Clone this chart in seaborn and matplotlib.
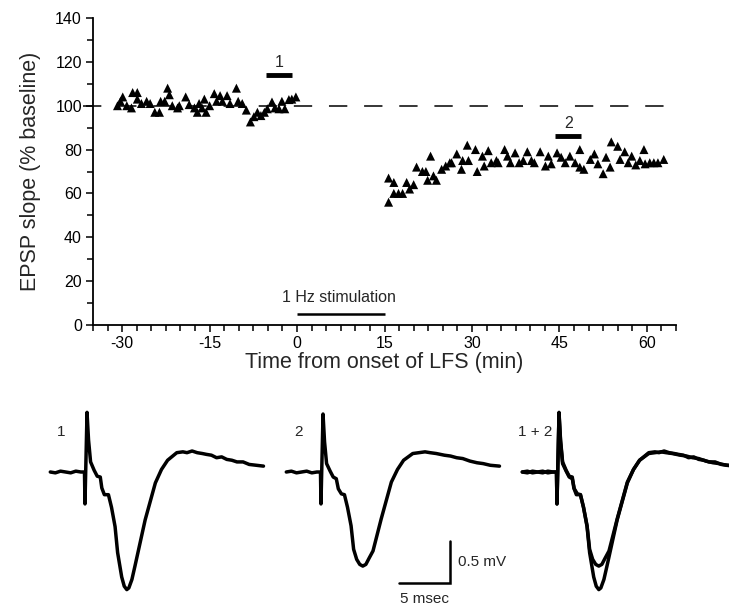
import numpy as np
import pandas as pd
import seaborn as sns
import matplotlib.pyplot as plt
from matplotlib.ticker import MultipleLocator

sns.set_theme(style="ticks")
plt.rcParams['font.family'] = ['Liberation Sans', 'DejaVu Sans']
plt.rcParams['axes.unicode_minus'] = False

# EPSP slope, baseline period (min, % baseline)
base_t = [-30.8, -30.3, -29.9, -29.2, -28.4, -28.2, -27.4, -27.4, -26.7, -25.8,
          -25.2, -24.4, -23.6, -23.4, -22.7, -22.2, -21.9, -21.4, -20.5, -20.2,
          -19.1, -18.5, -17.6, -17.1, -16.8, -16.3, -15.6, -15.9, -15.0, -14.2,
          -13.8, -13.2, -12.8, -12.0, -11.5, -10.4, -10.1, -9.4, -8.7, -8.0,
          -7.4, -6.8, -6.2, -5.6, -5.1, -4.3, -3.8, -3.1, -2.6, -2.1,
          -1.4, -0.9, -0.2]
base_v = [100, 102, 104, 100, 99, 106, 106, 103, 101, 102,
          101, 97, 97, 102, 102, 108, 105, 100, 99, 100,
          104, 100.5, 99, 97, 101, 99, 97, 103, 100, 105.5,
          102, 104.6, 102, 104.6, 101, 108, 102, 101, 98, 92.6,
          95, 97, 95.5, 97, 98.6, 101.7, 99, 98.6, 102, 98.6,
          102.8, 103, 104]

# EPSP slope after LFS
post_t = [15.7, 15.7, 16.6, 16.6, 17.4, 18.1, 18.8, 19.3, 20.0, 20.5,
          21.5, 22.1, 22.9, 22.4, 23.4, 23.9, 24.8, 25.5, 26.2, 26.5,
          27.4, 28.2, 28.4, 29.2, 29.4, 30.6, 30.9, 31.8, 32.1, 32.8,
          33.3, 34.2, 34.5, 35.6, 36.1, 36.6, 37.4, 38.1, 38.8, 39.5,
          40.2, 40.7, 41.7, 42.6, 43.1, 43.6, 44.6, 45.3, 46.0, 46.8,
          47.7, 48.5, 48.5, 49.2, 50.3, 51.0, 51.6, 52.5, 53.0, 53.7,
          53.9, 55.0, 55.4, 56.2, 56.8, 57.4, 58.1, 58.8, 59.5, 59.7,
          60.5, 61.2, 61.9, 62.9]
post_v = [56, 67, 65, 60, 60, 60, 65, 62, 64, 72,
          70, 70, 77, 66, 68, 66, 71, 72.5, 74, 74,
          78, 71, 75, 82, 75, 80, 70, 77, 72.5, 79.5,
          74, 75, 74, 80, 77, 74, 78.5, 74, 75, 79,
          75, 74, 79, 72.5, 77, 73.5, 78.5, 76.5, 74, 77,
          74, 80, 72, 71, 75.5, 78, 73.5, 69, 76.5, 72,
          83.5, 81.5, 75.5, 79, 74, 77, 73, 75, 80, 73.5,
          74, 74, 74, 75.5]

# sample periods marked above the data
period1 = [-5.3, -0.9]
period2 = [44.3, 48.7]
lfs = [0, 15]

# EPSP traces (ms after stimulus, mV relative to baseline)
tr1_t = [-3.5, -3.0, -2.5, -2.0, -1.5, -1.0, -0.5, -0.15, -0.1, 0.1,
         0.25, 0.45, 0.8, 1.1, 1.4, 1.55, 1.8, 2.2, 2.5, 2.85,
         3.1, 3.5, 3.75, 4.0, 4.2, 4.5, 4.8, 5.0, 5.8, 6.8, 7.4,
         8.0, 8.9, 9.5, 9.9, 10.4, 10.9, 11.4, 11.8, 12.3, 12.8,
         13.3, 13.8, 14.3, 14.8, 15.4, 16.0, 16.7, 17.4]
tr1_v = [0.00, -0.01, 0.01, 0.00, -0.01, 0.01, 0.00, 0.00, -0.38, 0.71,
         0.38, 0.12, 0.02, -0.05, -0.06, -0.19, -0.27, -0.27, -0.42, -0.65,
         -0.96, -1.25, -1.36, -1.40, -1.38, -1.28, -1.12, -1.01, -0.57, -0.13, 0.03,
         0.14, 0.23, 0.24, 0.23, 0.25, 0.23, 0.22, 0.21, 0.20, 0.17,
         0.18, 0.15, 0.14, 0.12, 0.12, 0.09, 0.08, 0.07]
tr2_t = [-3.5, -3.0, -2.5, -2.0, -1.5, -1.0, -0.5, -0.15, -0.1, 0.1,
         0.25, 0.45, 0.8, 1.1, 1.4, 1.6, 1.9, 2.2, 2.5, 2.85,
         3.1, 3.4, 3.7, 4.0, 4.3, 4.6, 5.0, 5.8, 6.8, 7.4,
         8.0, 8.9, 9.5, 10.1, 10.6, 11.2, 12.0, 12.6, 13.2, 13.8,
         14.5, 15.2, 15.8, 16.5, 17.4]
tr2_v = [0.00, 0.01, -0.01, 0.00, 0.01, -0.01, 0.00, 0.00, -0.38, 0.69,
         0.36, 0.10, 0.01, -0.06, -0.08, -0.20, -0.26, -0.27, -0.42, -0.64,
         -0.92, -1.04, -1.10, -1.12, -1.10, -1.03, -0.94, -0.56, -0.12, 0.03,
         0.14, 0.22, 0.23, 0.24, 0.23, 0.22, 0.20, 0.19, 0.17, 0.16,
         0.13, 0.11, 0.10, 0.08, 0.07]
scale_ms = 5
scale_mv = 0.5

W, H = 729, 607
fig = plt.figure(figsize=(W / 100, H / 100), dpi=100)

# ---- top panel: time course ----
ax = fig.add_axes([93 / W, 1 - 325 / H, (676 - 93) / W, (325 - 18) / H])
df = pd.DataFrame({"t": base_t + post_t, "v": base_v + post_v})
sns.scatterplot(data=df, x="t", y="v", marker="^", color="black", s=42,
                edgecolor="none", ax=ax, zorder=3)
ax.plot([-36.8, 65], [100, 100], color="black", lw=1.1, dashes=(12, 11),
        clip_on=False)
ax.plot(period1, [114, 114], color="black", lw=3.5, solid_capstyle="butt")
ax.text(np.mean(period1), 116.5, "1", ha="center", va="bottom", fontsize=11.5)
ax.plot(period2, [86.2, 86.2], color="black", lw=3.5, solid_capstyle="butt")
ax.text(np.mean(period2), 88.5, "2", ha="center", va="bottom", fontsize=11.5)
ax.plot(lfs, [4.8, 4.8], color="black", lw=1.8, solid_capstyle="butt")
ax.text(7.2, 9.0, "1 Hz stimulation", ha="center", va="bottom", fontsize=11.5)

ax.set_xlim(-35, 65)
ax.set_ylim(0, 140)
ax.set_xticks([-30, -15, 0, 15, 30, 45, 60])
ax.set_yticks(range(0, 141, 20))
ax.xaxis.set_minor_locator(MultipleLocator(2.5))
ax.yaxis.set_minor_locator(MultipleLocator(10))
ax.tick_params(which="both", direction="out", width=1.1, color="black",
               labelsize=11.5, labelcolor="black")
ax.tick_params(which="major", length=5, pad=3)
ax.tick_params(which="minor", length=4)
for side in ["left", "bottom"]:
    ax.spines[side].set_linewidth(1.3)
    ax.spines[side].set_color("black")
sns.despine(ax=ax)
ax.set_xlabel("Time from onset of LFS (min)", fontsize=15.5, labelpad=1)
ax.set_ylabel("EPSP slope (% baseline)", fontsize=15.5, labelpad=10)

# ---- bottom panel: traces ----
ax2 = fig.add_axes([0, 0, 1, (H - 400) / H])
ms_per_px = 1 / 10.2
mv_per_px = 1 / 84
ax2.set_xlim(-86 * ms_per_px, (W - 86) * ms_per_px)
ax2.set_ylim(-(H - 472) * mv_per_px, 72 * mv_per_px)
ax2.axis("off")

off2 = (322 - 86) * ms_per_px
off3 = (558 - 86) * ms_per_px
traces = [(tr1_t, tr1_v, 0), (tr2_t, tr2_v, off2), (tr1_t, tr1_v, off3),
          (tr2_t, tr2_v, off3)]
for tt, vv, off in traces:
    d = pd.DataFrame({"t": np.array(tt) + off, "v": vv})
    sns.lineplot(data=d, x="t", y="v", sort=False, estimator=None,
                 color="black", lw=2.5, ax=ax2)

ax2.text(-2.4, 0.48, "1", ha="center", va="center", fontsize=11)
ax2.text(off2 - 2.3, 0.48, "2", ha="center", va="center", fontsize=11)
ax2.text(off3 - 2.2, 0.48, "1 + 2", ha="center", va="center", fontsize=11)

sx = 35.7
sy = -1.32
ax2.plot([sx - scale_ms, sx, sx], [sy, sy, sy + scale_mv], color="black",
         lw=1.8, solid_joinstyle="miter")
ax2.text(sx + 0.8, sy + scale_mv / 2, "0.5 mV", ha="left", va="center",
         fontsize=11)
ax2.text(sx - scale_ms / 2, sy - 0.11, "5 msec", ha="center", va="top",
         fontsize=11)

fig.savefig("out.png", dpi=100)
